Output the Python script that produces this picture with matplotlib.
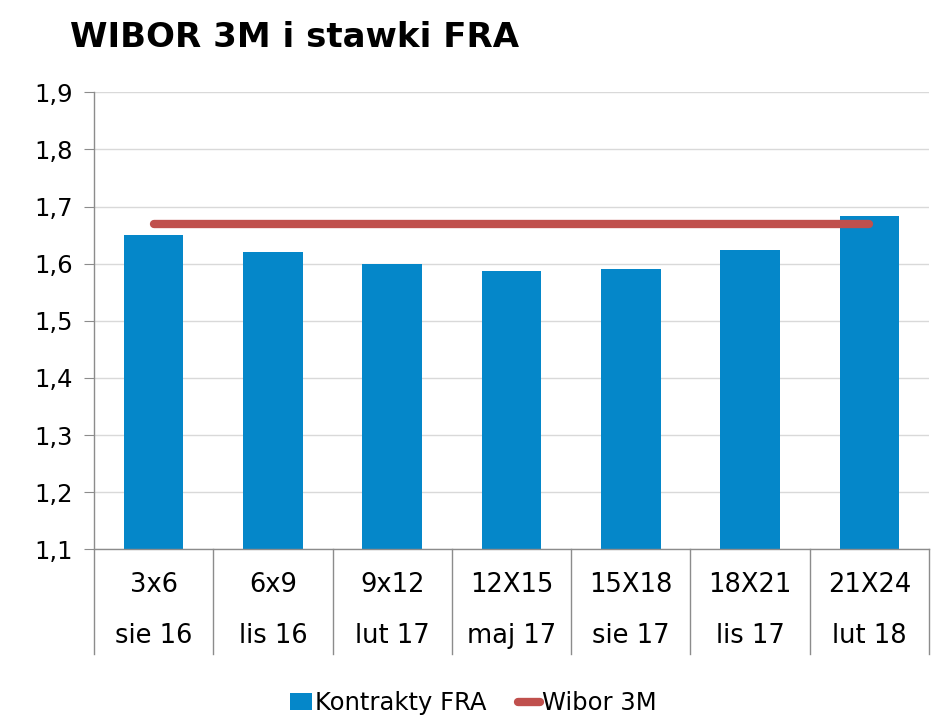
import matplotlib
matplotlib.use("Agg")
import matplotlib.pyplot as plt
import matplotlib.transforms as mtransforms
from matplotlib.patches import Patch
from matplotlib.lines import Line2D

contracts = ["3x6", "6x9", "9x12", "12X15", "15X18", "18X21", "21X24"]
months = ["sie 16", "lis 16", "lut 17", "maj 17", "sie 17", "lis 17", "lut 18"]
fra_values = [1.65, 1.62, 1.60, 1.587, 1.59, 1.624, 1.684]
wibor_3m = [1.67, 1.67, 1.67, 1.67, 1.67, 1.67, 1.67]
y_ticks = [1.1, 1.2, 1.3, 1.4, 1.5, 1.6, 1.7, 1.8, 1.9]

bar_color = "#0587C9"
line_color = "#C0504D"
axis_gray = "#8C8C8C"

plt.rcParams["font.family"] = ["DejaVu Sans"]

fig = plt.figure(figsize=(9.47, 7.28), dpi=100)
ax = fig.add_axes([0.0993, 0.2455, 0.8817, 0.6277])

x = list(range(len(contracts)))
ax.bar(x, [v - 1.1 for v in fra_values], bottom=1.1, width=0.5, color=bar_color, zorder=2)
ax.plot(x, wibor_3m, color=line_color, linewidth=6, solid_capstyle="round", zorder=3)

ax.set_xlim(-0.5, len(contracts) - 0.5)
ax.set_ylim(1.1, 1.9)
ax.set_yticks(y_ticks)
ax.set_yticklabels([f"{t:.1f}".replace(".", ",") for t in y_ticks], fontsize=17.5)
ax.tick_params(axis="y", length=7, color=axis_gray, pad=8)
ax.set_xticks([])
ax.grid(axis="y", color="#D9D9D9", linewidth=1, zorder=0)
ax.set_axisbelow(True)

for side in ["top", "right", "bottom", "left"]:
    ax.spines[side].set_visible(False)

# axis lines and category separators drawn below the plot
trans = mtransforms.blended_transform_factory(ax.transData, ax.transAxes)
ax.plot([-0.5, len(contracts) - 0.5], [0, 0], transform=trans, color=axis_gray,
        linewidth=1, clip_on=False, zorder=4)
ax.plot([-0.5, -0.5], [1, -0.23], transform=trans, color=axis_gray,
        linewidth=1, clip_on=False, zorder=4)
for i in range(1, len(contracts) + 1):
    ax.plot([i - 0.5, i - 0.5], [0, -0.23], transform=trans, color=axis_gray,
            linewidth=1, clip_on=False, zorder=4)

for i, (c, m) in enumerate(zip(contracts, months)):
    ax.text(i, -0.078, c, transform=trans, ha="center", va="center", fontsize=18.5)
    ax.text(i, -0.19, m, transform=trans, ha="center", va="center", fontsize=18.5)

fig.text(0.074, 0.949, "WIBOR 3M i stawki FRA", fontsize=24.5, fontweight="bold",
         ha="left", va="center")

handles = [
    Patch(facecolor=bar_color, edgecolor="none"),
    Line2D([0], [0], color=line_color, linewidth=6, solid_capstyle="round"),
]
fig.legend(handles, ["Kontrakty FRA", "Wibor 3M"], loc="center",
           bbox_to_anchor=(0.5, 0.034), ncol=2, frameon=False, fontsize=17.5,
           handlelength=0.9, handletextpad=0.1, columnspacing=1.3)

fig.savefig("out.png", dpi=100)
